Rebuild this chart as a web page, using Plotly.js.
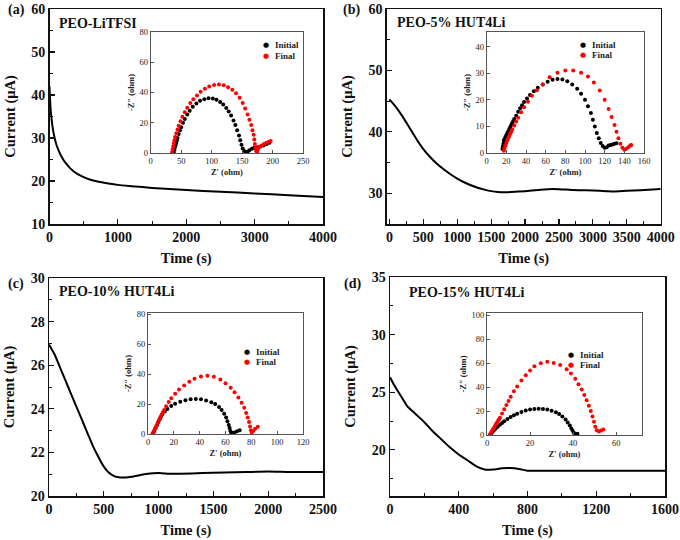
<!DOCTYPE html>
<html><head><meta charset="utf-8">
<script src="https://cdn.plot.ly/plotly-3.0.1.min.js"></script>
<style>html,body{margin:0;padding:0;background:#fff}#chart{width:680px;height:540px}</style>
</head><body><div id="chart"></div><script>
// ---------- main chronoamperometry curves ----------
const tA = [0,5,15,30,50,75,100,150,200,250,300,400,500,600,700,800,1000,1200,1500,2000,2500,3000,3500,4000];
const iA = [42,40,37,34.5,32,30,28.5,26.5,25,23.9,23,21.7,20.9,20.3,19.9,19.6,19.1,18.8,18.4,17.9,17.5,17.1,16.7,16.3];

const tB = [0,100,200,300,400,500,600,700,800,900,1000,1100,1200,1300,1400,1500,1600,1700,1800,2000,2200,2400,2600,2800,3000,3200,3300,3500,3700,4000];
const iB = [45.3,44.0,42.4,40.6,38.8,37.2,35.9,34.8,33.9,33.1,32.4,31.8,31.3,30.9,30.6,30.35,30.2,30.15,30.2,30.35,30.55,30.7,30.6,30.5,30.45,30.35,30.3,30.4,30.5,30.7];

const tC = [0,50,100,150,200,250,300,350,400,450,500,550,600,650,700,750,800,900,1000,1100,1200,1400,1600,1800,2000,2200,2500];
const iC = [26.95,26.5,25.9,25.3,24.7,24.1,23.5,22.9,22.3,21.8,21.35,21.05,20.9,20.85,20.85,20.88,20.93,21.02,21.05,21.02,21.02,21.05,21.08,21.1,21.12,21.1,21.1];

const tD = [0,25,50,75,100,150,200,250,300,350,400,450,500,550,600,650,700,750,800,900,1200,1600];
const iD = [26.3,25.6,25.0,24.4,23.8,23.1,22.4,21.6,20.9,20.2,19.6,19.1,18.6,18.3,18.3,18.4,18.42,18.35,18.2,18.2,18.2,18.2];

// ---------- EIS insets (Z', -Z'') ----------
const zAiRe = [38,39,40,41,42,43,44,46,48,50,53,56,60,64,69,75,81,88,95,102,108,114,119,124,128,132,136,139,142,145,147,149,151,153,156,159,162,166,170,175,180,185,190,195];
const zAiIm = [0,2,4,5.5,7,8.5,10,12.5,15,17,20,22.5,25.5,28,30.5,32.8,34.5,35.6,36.2,36,35.2,33.8,32,29.8,27.5,24.8,21.5,18.5,15,11.5,8.5,5.5,3,1.5,0.5,0.8,1.8,2.8,3.4,3.8,4.3,5,5.8,6.8];
const zAfRe = [35,36,37,38,39,40,42,44,46,49,52,56,60,65,70,76,82,89,96,104,112,120,127,134,140,146,151,155,159,162,165,167,169,170,171,172,173,175,176,178,182,186,190,194,197];
const zAfIm = [0.5,2.5,4.5,6.5,8.5,10.5,13,15.5,18,21,24,27,30,33,35.5,38,40.5,42.5,44,45,45.3,44.8,43.5,41.8,39.5,36.5,33,29.5,25.5,22,18.5,15,12,9,6,3.5,1.5,0.5,2.5,4,5,6,6.8,7.5,8];

const zBiRe = [16,16.5,17,17.5,18,19,20,21,22,23,24,25,26,27,28,30,32,34,36,38,41,44,48,52,57,62,67,72,77,82,87,92,96,100,103,106,108,110,112,114,116,118,120,122,124,126,128,130,132];
const zBiIm = [1.5,2.5,3.5,4.5,5.2,6,6.8,7.5,8.2,9,9.8,10.5,11.3,12,12.8,14,15.5,16.8,18,19.2,20.5,21.8,23.2,24.5,25.8,26.8,27.5,27.8,27.6,27,25.8,24.2,22.3,20,17.6,15,12.5,10,7.5,5.5,3.8,2.6,2,2.2,2.8,3,3.2,3.5,3.7];
const zBfRe = [17.5,18,19,20,21,22,23,24,25,26,28,30,32,35,38,42,46,51,57,64,72,80,88,96,103,109,115,120,124,127,130,132,134,136,138,140,142,144,146,147];
const zBfIm = [0.8,1.8,2.8,3.8,4.8,5.6,6.4,7.2,8,8.8,10.3,11.8,13.3,15.3,17.2,19.3,21.5,23.6,25.8,28.5,30.2,31,31,30.2,28.8,26.5,23.5,20,16.5,13.5,10.5,8,5.5,3.5,2,1.2,1.6,2.2,2.8,3];

const zCiRe = [4,5,6,7,8,9,10,11,13,15,18,21,25,29,33,37,41,45,49,52,55,57,59,60.5,61.5,62.5,63.2,63.8,64.5,65.5,67,69,71];
const zCiIm = [0.5,2,4,6,8,9.8,11.5,13,15,16.8,18.8,20.3,21.6,22.6,23.2,23.5,23.2,22.5,21.3,20,18,16,13.5,11,8.5,6,4,2,0.8,0.5,1,1.8,2.5];
const zCfRe = [3.5,4.5,5.5,6.5,7.5,8.5,9.5,10.5,11.5,12.5,14,16,18,21,24,28,32,36,41,46,51,56,60,64,67,70,72.5,74.5,76,77.2,78.2,79,79.7,80.3,81.5,83,85];
const zCfIm = [0.5,2,3.8,5.6,7.4,9.2,11,12.8,14.5,16,18.5,21.5,24,27,29.8,32.5,35,37,38.5,39,38.3,36.5,34,31,28,24.5,21,17.5,14,11,8,5,2.5,1,2,3.5,4.8];

const zDiRe = [1.5,2,2.5,3,3.5,4,5,6,7,8,9.5,11,12.5,14,16,18,20,22,24,26,28,30,32,33.5,35,36.5,37.5,38.5,39.2,39.8,40.3,40.8,41.5,42];
const zDiIm = [0.5,1.5,2.5,3.5,4.5,5.5,7,8.5,10,11.5,13.3,15,16.5,17.8,19.3,20.5,21.3,21.8,22,21.8,21.3,20.3,19,17.5,15.5,13,10.5,8,5.5,3.5,1.8,0.8,0.5,1];
const zDfRe = [1.5,2,2.5,3,3.5,4,4.5,5,5.5,6,7,8,9,10,11,12.5,14,16,18,20,22,25,28,31,34,37,39,41,42.5,44,45.2,46.3,47.3,48.2,49,49.7,50.3,51,52,53,54];
const zDfIm = [0.8,2.5,4,5.5,7,8.5,10,11.5,13,14.5,18,21.5,25,28.5,32,36.5,40.5,45.5,50,54,57.5,60,61.3,60.3,58.5,55,51.5,47,42.5,38,33.5,29,24.5,20,15.5,11,7,4,3,3.8,4.5];

const panelLabels = ['(a)','(b)','(c)','(d)'];
const sampleNames = ['PEO-LiTFSI','PEO-5% HUT4Li','PEO-10% HUT4Li','PEO-15% HUT4Li'];
const seriesNames = ['Initial','Final'];

// ---------- layout helpers ----------
const W = 680, H = 540;
const px = x => x / W;
const py = y => 1 - y / H;
const SERIF = '"Liberation Serif", "Times New Roman", serif';

function mainX(d, range, dtick, anchor) {
  return {domain:[px(d[0]), px(d[1])], range:range, dtick:dtick, tick0:0, anchor:anchor,
    showline:true, mirror:true, linecolor:'#111', linewidth:1.5, showgrid:false, zeroline:false,
    ticks:'inside', ticklen:5, tickwidth:1.2, tickcolor:'#111', ticklabeloverflow:'allow',
    minor:{ticks:'inside', ticklen:3, tickwidth:1, tickcolor:'#111', dtick:dtick/2},
    tickfont:{family:SERIF, size:14, color:'#111', weight:'bold'},
    title:{text:'Time (s)', font:{family:SERIF, size:14.5, color:'#111', weight:'bold'}, standoff:8}};
}
function mainY(d, range, dtick, anchor) {
  return {domain:[py(d[1]), py(d[0])], range:range, dtick:dtick, tick0:0, anchor:anchor,
    showline:true, mirror:true, linecolor:'#111', linewidth:1.5, showgrid:false, zeroline:false,
    ticks:'inside', ticklen:5, tickwidth:1.2, tickcolor:'#111', ticklabeloverflow:'allow',
    minor:{ticks:'inside', ticklen:3, tickwidth:1, tickcolor:'#111', dtick:dtick/2},
    tickfont:{family:SERIF, size:14, color:'#111', weight:'bold'},
    title:{text:'Current (μA)', font:{family:SERIF, size:14.5, color:'#111', weight:'bold'}, standoff:12}};
}
function insetX(d, range, dtick, anchor) {
  return {domain:[px(d[0]), px(d[1])], range:range, dtick:dtick, tick0:0, anchor:anchor,
    showline:true, mirror:true, linecolor:'#555', linewidth:1, showgrid:false, zeroline:false,
    ticks:'inside', ticklen:3, tickwidth:1, tickcolor:'#555', ticklabeloverflow:'allow',
    tickfont:{family:SERIF, size:8.5, color:'#222'},
    title:{text:'Z\u2032 (ohm)', font:{family:SERIF, size:8.5, color:'#222', weight:'bold'}, standoff:3}};
}
function insetY(d, range, dtick, anchor) {
  return {domain:[py(d[1]), py(d[0])], range:range, dtick:dtick, tick0:0, anchor:anchor,
    showline:true, mirror:true, linecolor:'#555', linewidth:1, showgrid:false, zeroline:false,
    ticks:'inside', ticklen:3, tickwidth:1, tickcolor:'#555', ticklabeloverflow:'allow',
    tickfont:{family:SERIF, size:8.5, color:'#222'},
    title:{text:'-Z\u2033 (ohm)', font:{family:SERIF, size:8.5, color:'#222', weight:'bold'}, standoff:3}};
}

const layout = {
  width:W, height:H, margin:{l:0,r:0,t:0,b:0}, showlegend:false,
  paper_bgcolor:'#fff', plot_bgcolor:'rgba(0,0,0,0)',
  xaxis:  mainX([49.5,323],[0,4000],1000,'y'),
  yaxis:  mainY([9,224],[10,60],10,'x'),
  xaxis2: insetX([150.7,303],[0,250],50,'y2'),
  yaxis2: insetY([32,153],[0,80],20,'x2'),
  xaxis3: mainX([386.7,660.7],[-40,4000],500,'y3'),
  yaxis3: mainY([9,224],[25,60],10,'x3'),
  xaxis4: insetX([486.7,644],[0,160],20,'y4'),
  yaxis4: insetY([32,153],[0,45.5],10,'x4'),
  xaxis5: mainX([49,323],[0,2500],500,'y5'),
  yaxis5: mainY([278,496],[20,30],2,'x5'),
  xaxis6: insetX([148,303],[0,120],20,'y6'),
  yaxis6: insetY([313,434],[0,81],20,'x6'),
  xaxis7: mainX([390,665],[0,1600],400,'y7'),
  yaxis7: mainY([277,496],[16,35],5,'x7'),
  xaxis8: insetX([487,642],[0,72],20,'y8'),
  yaxis8: insetY([313,435],[0,102],20,'x8'),
  annotations:[]
};

// panel letters and sample names
const labelPos = [[6,10],[341,10],[6,284],[342,284]];
const namePos = [[57,23],[395,22],[57,291],[407,292]];
for (let k = 0; k < 4; k++) {
  layout.annotations.push({xref:'paper', yref:'paper', x:px(labelPos[k][0]), y:py(labelPos[k][1]),
    xanchor:'left', yanchor:'middle', showarrow:false, text:panelLabels[k],
    font:{family:SERIF, size:14, color:'#111', weight:'bold'}});
  layout.annotations.push({xref:'paper', yref:'paper', x:px(namePos[k][0]), y:py(namePos[k][1]),
    xanchor:'left', yanchor:'middle', showarrow:false, text:sampleNames[k],
    font:{family:SERIF, size:14, color:'#111', weight:'bold'}});
}
// inset legends (marker + text)
const legPos = [[265.7,45,56],[583.3,45,55],[246.7,351.7,362.3],[571,354.7,364.7]];
const legCol = ['#000','#ff0000'];
legPos.forEach(p => {
  [0,1].forEach(j => {
    const yy = j === 0 ? p[1] : p[2];
    layout.annotations.push({xref:'paper', yref:'paper', x:px(p[0]), y:py(yy), xanchor:'center', yanchor:'middle',
      showarrow:false, text:'●', font:{family:'DejaVu Sans', size:7, color:legCol[j]}});
    layout.annotations.push({xref:'paper', yref:'paper', x:px(p[0]+7), y:py(yy), xanchor:'left', yanchor:'middle',
      showarrow:false, text:seriesNames[j], font:{family:SERIF, size:9, color:'#222', weight:'bold'}});
  });
});

function curve(t, i, xa, ya) {
  return {x:t, y:i, xaxis:xa, yaxis:ya, type:'scatter', mode:'lines',
    line:{color:'#000', width:2, shape:'spline', smoothing:0.7}, hoverinfo:'skip'};
}
function dots(re, im, xa, ya, col, name) {
  return {x:re, y:im, xaxis:xa, yaxis:ya, type:'scatter', mode:'markers', name:name,
    marker:{color:col, size:4, symbol:'circle'}, hoverinfo:'skip'};
}

const data = [
  curve(tA, iA, 'x', 'y'),
  dots(zAiRe, zAiIm, 'x2', 'y2', '#000', 'Initial'),
  dots(zAfRe, zAfIm, 'x2', 'y2', '#ff0000', 'Final'),
  curve(tB, iB, 'x3', 'y3'),
  dots(zBiRe, zBiIm, 'x4', 'y4', '#000', 'Initial'),
  dots(zBfRe, zBfIm, 'x4', 'y4', '#ff0000', 'Final'),
  curve(tC, iC, 'x5', 'y5'),
  dots(zCiRe, zCiIm, 'x6', 'y6', '#000', 'Initial'),
  dots(zCfRe, zCfIm, 'x6', 'y6', '#ff0000', 'Final'),
  curve(tD, iD, 'x7', 'y7'),
  dots(zDiRe, zDiIm, 'x8', 'y8', '#000', 'Initial'),
  dots(zDfRe, zDfIm, 'x8', 'y8', '#ff0000', 'Final')
];

Plotly.newPlot('chart', data, layout, {staticPlot:true, displayModeBar:false});
</script></body></html>
